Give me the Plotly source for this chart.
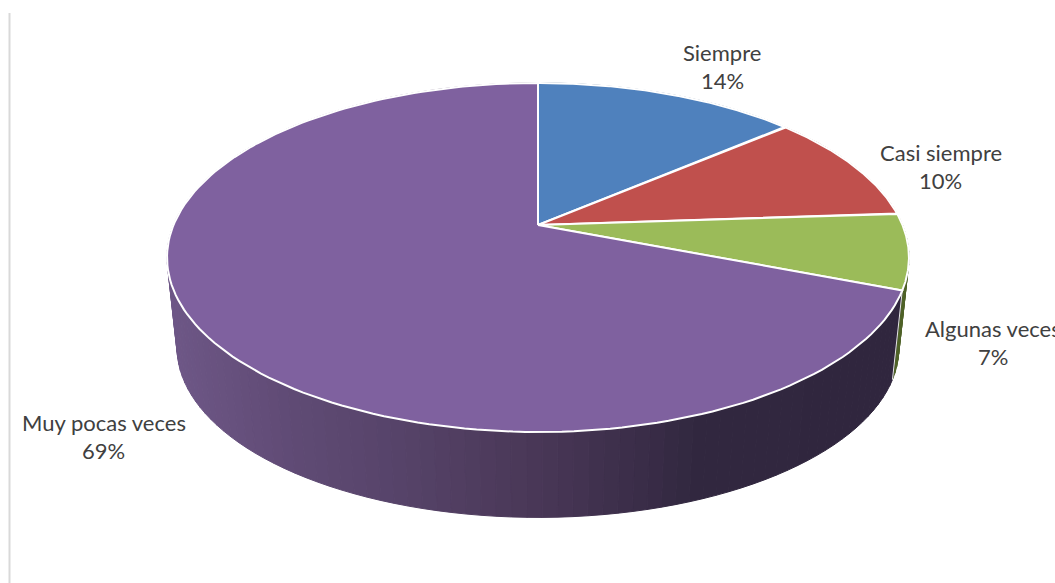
import numpy as np
import plotly.graph_objects as go

categories = ["Siempre", "Casi siempre", "Algunas veces", "Muy pocas veces"]
values = [13.7, 10.2, 7.0, 69.1]
top_colors = ["#4f81bd", "#c0504d", "#9bbb59", "#7f619f"]
side_colors = ["#2c4d75", "#772c2a", "#4f6228", None]

# gradient of the purple side wall, by horizontal position
grad_x = [170, 290, 400, 538, 700, 900]
grad_rgb = [(110, 87, 135), (96, 75, 117), (86, 67, 105), (73, 55, 87), (49, 39, 63), (48, 38, 62)]

label_xy = [(722, 52), (940.5, 152), (993, 328), (103.5, 422)]
W, H = 1055, 583
CX, AY = 538, 225
A, B, Q = 364.5, 168.5, 0.186
LOW_S, LOW_AY = 0.973, 316


def rim(theta, scale=1.0, ay=AY):
    u, v = np.sin(theta), np.cos(theta)
    d = 1 + Q * v
    return CX + scale * A * u / d, ay - scale * B * v / d


def side_color(i, x):
    if side_colors[i]:
        return side_colors[i]
    rgb = [np.interp(x, grad_x, [c[k] for c in grad_rgb]) for k in range(3)]
    return "rgb(%d,%d,%d)" % tuple(round(c) for c in rgb)


fig = go.Figure()


def poly(xs, ys, fill, line, width):
    fig.add_trace(go.Scatter(x=list(xs), y=list(ys), mode="lines", fill="toself", fillcolor=fill,
                             line=dict(color=line, width=width), hoverinfo="skip", showlegend=False))


edges = 2 * np.pi * np.cumsum([0] + values) / sum(values)

# side wall: narrow strips, painted from back to front
strips = []
for i in range(len(values)):
    n = max(4, int((edges[i + 1] - edges[i]) / np.radians(2)))
    t = np.linspace(edges[i], edges[i + 1], n + 1)
    for a, b in zip(t[:-1], t[1:]):
        strips.append((np.cos((a + b) / 2), i, a, b))
for _, i, a, b in sorted(strips, key=lambda s: -s[0]):
    x0, y0 = rim(a)
    x1, y1 = rim(b)
    x2, y2 = rim(b, LOW_S, LOW_AY)
    x3, y3 = rim(a, LOW_S, LOW_AY)
    c = side_color(i, (x0 + x1 + x2 + x3) / 4)
    poly([x0, x1, x2, x3, x0], [y0, y1, y2, y3, y0], c, c, 1)

# thin white edge between the green and purple side walls
xa, ya = rim(edges[3])
xb, yb = rim(edges[3], LOW_S, LOW_AY)
fig.add_trace(go.Scatter(x=[xa, xb], y=[ya, yb], mode="lines", line=dict(color="#e8e8e8", width=1),
                         hoverinfo="skip", showlegend=False))

# top face
for i in range(len(values)):
    t = np.linspace(edges[i], edges[i + 1], 160)
    xs, ys = rim(t)
    poly(np.r_[CX, xs, CX], np.r_[AY, ys, AY], top_colors[i], "#ffffff", 2)

# frame line at the left
fig.add_trace(go.Scatter(x=[9.5, 9.5], y=[13, 583], mode="lines", line=dict(color="#d9d9d9", width=2),
                         hoverinfo="skip", showlegend=False))

font = dict(family="Lato, Carlito, sans-serif", size=22, color="#404040")
for name, val, (lx, ly) in zip(categories, values, label_xy):
    fig.add_annotation(x=lx, y=ly, text=name, showarrow=False, xanchor="center", yanchor="middle", font=font)
    fig.add_annotation(x=lx, y=ly + 28, text=f"{round(val)}%", showarrow=False, xanchor="center", yanchor="middle", font=font)

fig.update_layout(width=W, height=H, margin=dict(l=0, r=0, t=0, b=0), paper_bgcolor="white", plot_bgcolor="white",
                  xaxis=dict(range=[0, W], visible=False, fixedrange=True),
                  yaxis=dict(range=[H, 0], visible=False, fixedrange=True))
fig.write_html("out.html", config={"displayModeBar": False},
               post_script="document.body.style.margin='0';document.body.style.overflow='hidden';")
